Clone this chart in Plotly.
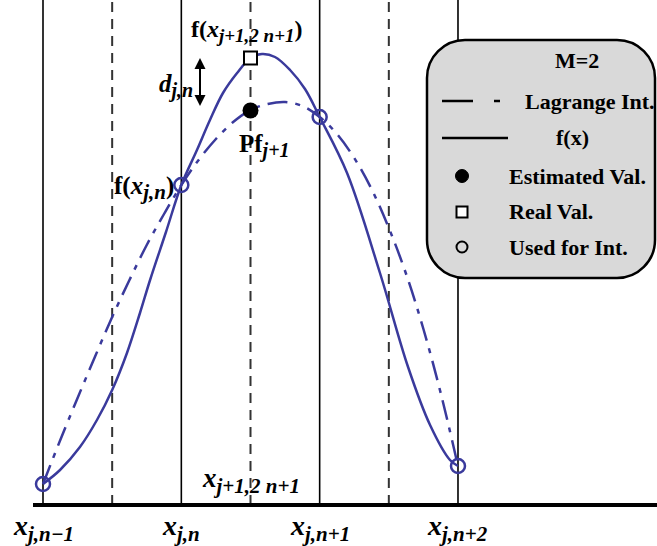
import plotly.graph_objects as go

W, H = 657, 546

# grid nodes x_{j,n-1} .. x_{j,n+2} and the half-step points between them
nodes = [0, 1, 2, 3]
half_steps = [0.5, 1.5, 2.5]
node_subs = ["j,n−1", "j,n", "j,n+1", "j,n+2"]

# samples of f used for the interpolation
used_y = [0.21, 3.20, 3.88, 0.39]

# the true function f(x)
fx_x = [0, 0.123, 0.267, 0.39, 0.5, 0.607, 0.701, 0.774, 0.889, 1.0,
        1.113, 1.207, 1.301, 1.403, 1.5, 1.583, 1.677, 1.786, 1.894, 2.0,
        2.198, 2.436, 2.639, 2.798, 2.942, 3.0]
fx_y = [0.21, 0.35, 0.58, 0.85, 1.15, 1.52, 1.92, 2.25, 2.73, 3.20,
        3.55, 3.85, 4.12, 4.32, 4.47, 4.51, 4.48, 4.35, 4.16, 3.88,
        3.32, 2.32, 1.38, 0.80, 0.45, 0.39]

# cubic Lagrange interpolant through the four used samples
lag_x = [0, 0.125, 0.25, 0.375, 0.5, 0.625, 0.75, 0.875, 1.0,
         1.125, 1.25, 1.375, 1.5, 1.625, 1.75, 1.875, 2.0,
         2.125, 2.25, 2.375, 2.5, 2.625, 2.75, 2.875, 3.0]
lag_y = [0.21, 0.65, 1.07, 1.48, 1.88, 2.25, 2.60, 2.91, 3.20,
         3.45, 3.66, 3.83, 3.95, 4.01, 4.03, 3.99, 3.88,
         3.71, 3.47, 3.16, 2.77, 2.31, 1.76, 1.12, 0.39]

# value at the new point x_{j+1,2n+1}
mid_x = 1.5
real_y = 4.47   # f(x_{j+1,2n+1})
est_y = 3.945   # Pf_{j+1}

# layout geometry (pixel scale of the drawing)
X0_PX, STEP_PX, Y0_PX, UNIT_PX = 43, 138.33, 505, 100
x_range = [-X0_PX / STEP_PX, (W - X0_PX) / STEP_PX]
y_range = [(Y0_PX - H) / UNIT_PX, Y0_PX / UNIT_PX]
Y_TOP = y_range[1] + 0.2

BLUE = "#3a3a9c"
FONT = "Liberation Serif"

fig = go.Figure()

# solid grid lines at the nodes
vx, vy = [], []
for n in nodes:
    vx += [n, n, None]
    vy += [0, Y_TOP, None]
fig.add_trace(go.Scatter(x=vx, y=vy, mode="lines",
                         line=dict(color="black", width=1.6), hoverinfo="skip"))

# dashed lines at the half steps
dx, dy = [], []
for h in half_steps:
    dx += [h, h, None]
    dy += [0, Y_TOP, None]
fig.add_trace(go.Scatter(x=dx, y=dy, mode="lines",
                         line=dict(color="#333333", width=2, dash="10px,7px"),
                         hoverinfo="skip"))

# horizontal axis
fig.add_trace(go.Scatter(x=[(33 - X0_PX) / STEP_PX, x_range[1]], y=[0, 0],
                         mode="lines", line=dict(color="black", width=4),
                         hoverinfo="skip"))

# Lagrange interpolant (dash-dot)
fig.add_trace(go.Scatter(x=lag_x, y=lag_y, mode="lines",
                         line=dict(color=BLUE, width=2.5, shape="spline",
                                   dash="20px,8px,5px,8px"),
                         hoverinfo="skip"))

# f(x)
fig.add_trace(go.Scatter(x=fx_x, y=fx_y, mode="lines",
                         line=dict(color=BLUE, width=2.5, shape="spline"),
                         hoverinfo="skip"))

# samples used for the interpolation
fig.add_trace(go.Scatter(x=nodes, y=used_y, mode="markers",
                         marker=dict(symbol="circle-open", size=14, color=BLUE,
                                     line=dict(width=2.5, color=BLUE)),
                         hoverinfo="skip"))

# real value
fig.add_trace(go.Scatter(x=[mid_x], y=[real_y], mode="markers",
                         marker=dict(symbol="square", size=13, color="white",
                                     line=dict(width=2, color="black")),
                         hoverinfo="skip"))

# estimated value
fig.add_trace(go.Scatter(x=[mid_x], y=[est_y], mode="markers",
                         marker=dict(symbol="circle", size=16, color="black"),
                         hoverinfo="skip"))


def dxp(px):
    return (px - X0_PX) / STEP_PX


def dyp(py):
    return (Y0_PX - py) / UNIT_PX


def sub(text, size):
    return f'<sub><span style="font-size:{size}px"><i>{text}</i></span></sub>'


annotations = []


def label(x, y, text, size, xanchor="center"):
    annotations.append(dict(x=x, y=y, xref="x", yref="y", text=text,
                            showarrow=False, xanchor=xanchor, yanchor="middle",
                            font=dict(family=FONT, size=size, color="black",
                                      weight="bold")))


# node labels under the axis
for n, s in zip(nodes, node_subs):
    label(n, dyp(528), "<i>x</i>" + sub(s, 21), 28)

label(mid_x, dyp(480), "<i>x</i>" + sub("j+1,2 n+1", 21), 27)
label(mid_x - 0.03, dyp(31), "f(<i>x</i>" + sub("j+1,2 n+1", 19) + ")", 24)
label(dxp(176), dyp(86), "<i>d</i>" + sub("j,n", 20), 25)
label(dxp(264), dyp(146), "Pf" + sub("j+1", 20), 25)
label(dxp(176), dyp(188), "f(<i>x</i>" + sub("j,n", 21) + ")", 25,
      xanchor="right")

# double arrow marking the error d_{j,n}
annotations.append(dict(x=dxp(200), y=real_y, ax=dxp(200), ay=est_y + 0.03,
                        xref="x", yref="y", axref="x", ayref="y", text="",
                        showarrow=True, arrowhead=2, arrowside="end+start",
                        arrowsize=1.1, arrowwidth=2, arrowcolor="black",
                        standoff=0, startstandoff=0))


# legend panel, positioned in pixels and converted to paper coordinates
def P(px, py):
    return px / W, 1 - py / H


def rounded_box(x0, y0, x1, y1, r):
    k = 0.5523 * r
    pts = [
        ("M", [(x0 + r, y0)]),
        ("L", [(x1 - r, y0)]),
        ("C", [(x1 - r + k, y0), (x1, y0 + r - k), (x1, y0 + r)]),
        ("L", [(x1, y1 - r)]),
        ("C", [(x1, y1 - r + k), (x1 - r + k, y1), (x1 - r, y1)]),
        ("L", [(x0 + r, y1)]),
        ("C", [(x0 + r - k, y1), (x0, y1 - r + k), (x0, y1 - r)]),
        ("L", [(x0, y0 + r)]),
        ("C", [(x0, y0 + r - k), (x0 + r - k, y0), (x0 + r, y0)]),
    ]
    out = []
    for cmd, ps in pts:
        coords = " ".join(f"{P(a, b)[0]:.5f},{P(a, b)[1]:.5f}" for a, b in ps)
        out.append(f"{cmd} {coords}")
    return " ".join(out) + " Z"


shapes = [dict(type="path", xref="paper", yref="paper",
               path=rounded_box(427, 40, 655, 278, 38),
               fillcolor="#d9d9d9", line=dict(color="black", width=2.5),
               layer="above")]


def seg(px0, px1, py):
    a, b = P(px0, py), P(px1, py)
    return dict(type="line", xref="paper", yref="paper", x0=a[0], y0=a[1],
                x1=b[0], y1=b[1], line=dict(color="black", width=2.5),
                layer="above")


shapes += [seg(442, 473, 101), seg(494, 500, 101), seg(442, 508, 138)]


def blob(cx, cy, r, kind, fill, lw):
    a, b = P(cx - r, cy - r), P(cx + r, cy + r)
    return dict(type=kind, xref="paper", yref="paper", x0=a[0], y0=b[1],
                x1=b[0], y1=a[1], fillcolor=fill,
                line=dict(color="black", width=lw), layer="above")


shapes += [blob(462, 176, 6.5, "circle", "black", 1),
           blob(462, 212, 5.5, "rect", "white", 2),
           blob(462, 247, 5.5, "circle", "rgba(0,0,0,0)", 2)]


def legend_text(px, py, text, xanchor="center"):
    x, y = P(px, py)
    annotations.append(dict(x=x, y=y, xref="paper", yref="paper", text=text,
                            showarrow=False, xanchor=xanchor, yanchor="middle",
                            font=dict(family=FONT, size=22, color="black",
                                      weight="bold")))


legend_text(577, 60, "M=2")
legend_text(590, 101, "Lagrange Int.")
legend_text(572, 137, "f(x)")
legend_text(507, 177, "Estimated Val.", "left")
legend_text(507, 212, "Real Val.", "left")
legend_text(507, 248, "Used for Int.", "left")

fig.update_layout(
    width=W, height=H,
    margin=dict(l=0, r=0, t=0, b=0),
    paper_bgcolor="white", plot_bgcolor="white",
    showlegend=False,
    xaxis=dict(range=x_range, visible=False, fixedrange=True),
    yaxis=dict(range=y_range, visible=False, fixedrange=True),
    shapes=shapes,
    annotations=annotations,
)

fig.write_html("out.html")
